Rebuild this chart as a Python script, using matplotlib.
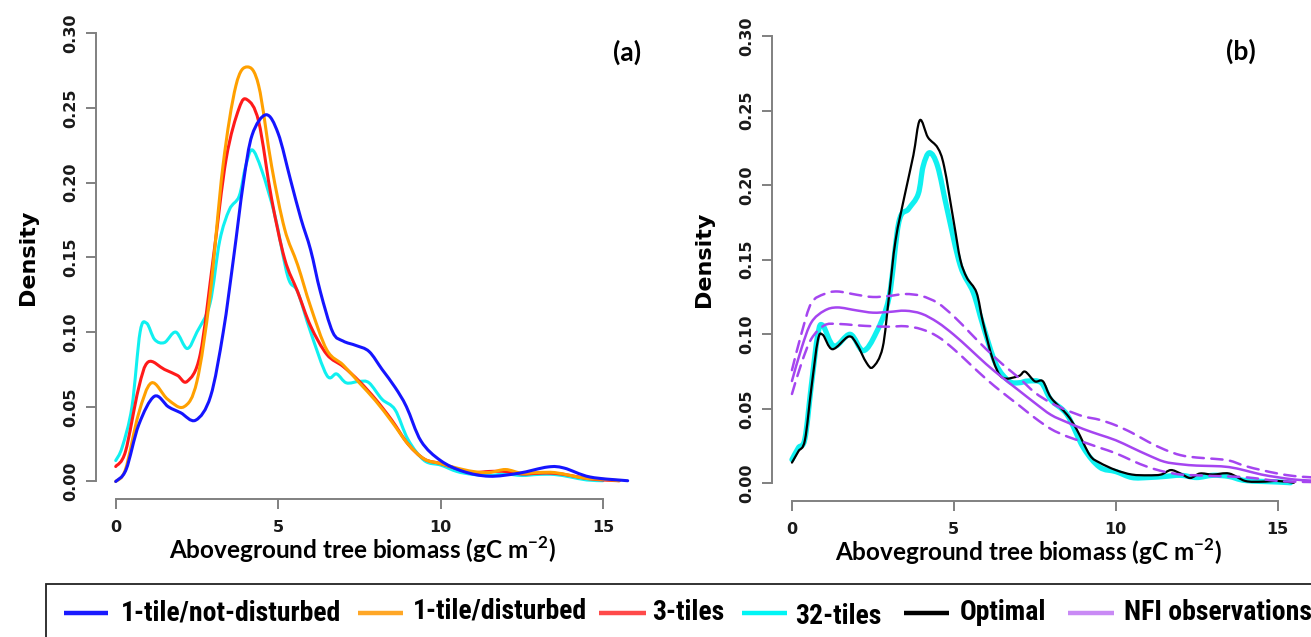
import numpy as np
import matplotlib
matplotlib.use("Agg")
import matplotlib.pyplot as plt
from matplotlib.path import Path
from matplotlib.patches import PathPatch
from matplotlib.lines import Line2D
from matplotlib import font_manager

# ---------------- data ----------------
# Panel (a)
xa_blue = [0, 0.32, 0.71, 1.19, 1.62, 2.0, 2.46, 2.92, 3.31, 3.63, 3.93, 4.2, 4.63, 5.0, 5.38, 5.7, 6.0, 6.3, 6.68, 7.0, 7.4, 7.8, 8.2, 8.6, 8.95, 9.4, 10.0, 10.7, 11.5, 12.4, 13.3, 13.8, 14.6, 15.76]
ya_blue = [0.000, 0.008, 0.038, 0.057, 0.050, 0.046, 0.041, 0.057, 0.100, 0.150, 0.200, 0.232, 0.2455, 0.233, 0.202, 0.176, 0.155, 0.127, 0.100, 0.094, 0.091, 0.087, 0.075, 0.063, 0.050, 0.027, 0.014, 0.0067, 0.0035, 0.0055, 0.0097, 0.009, 0.003, 0.0005]

xa_orange = [0, 0.3, 0.7, 1.1, 1.6, 2.1, 2.5, 2.9, 3.3, 3.7, 4.05, 4.4, 4.8, 5.2, 5.6, 6.0, 6.5, 7.0, 7.5, 8.0, 8.5, 9.0, 9.5, 10.0, 10.5, 11.0, 11.5, 12.0, 12.5, 13.0, 13.5, 14.0, 14.5, 15.0, 15.5]
ya_orange = [0.000, 0.008, 0.045, 0.066, 0.055, 0.050, 0.067, 0.124, 0.211, 0.265, 0.2775, 0.265, 0.211, 0.169, 0.145, 0.117, 0.088, 0.078, 0.066, 0.054, 0.040, 0.025, 0.015, 0.012, 0.009, 0.0067, 0.006, 0.008, 0.0055, 0.006, 0.006, 0.004, 0.002, 0.0015, 0.0005]

xa_red = [0, 0.3, 0.7, 1.0, 1.5, 1.9, 2.2, 2.6, 3.0, 3.4, 3.8, 4.05, 4.4, 4.8, 5.2, 5.6, 6.0, 6.5, 7.0, 7.5, 8.0, 8.5, 9.0, 9.5, 10.0, 10.5, 11.0, 11.5, 12.0, 12.5, 13.0, 13.5, 14.0, 14.5, 15.0, 15.5]
ya_red = [0.010, 0.020, 0.062, 0.080, 0.075, 0.071, 0.067, 0.085, 0.149, 0.216, 0.250, 0.2555, 0.241, 0.189, 0.149, 0.127, 0.104, 0.085, 0.077, 0.067, 0.055, 0.041, 0.025, 0.015, 0.012, 0.0085, 0.006, 0.0067, 0.0067, 0.005, 0.0055, 0.0055, 0.004, 0.002, 0.001, 0.0005]

xa_cyan = [0, 0.2, 0.5, 0.75, 0.95, 1.2, 1.5, 1.85, 2.2, 2.5, 2.9, 3.2, 3.5, 3.8, 4.0, 4.2, 4.5, 4.9, 5.3, 5.6, 6.0, 6.5, 6.8, 7.1, 7.5, 7.8, 8.2, 8.6, 9.0, 9.5, 10.0, 10.5, 11.0, 11.5, 12.0, 12.5, 13.0, 13.5, 14.0, 14.5, 15.0]
ya_cyan = [0.014, 0.023, 0.050, 0.100, 0.106, 0.095, 0.093, 0.100, 0.089, 0.100, 0.119, 0.161, 0.182, 0.191, 0.211, 0.222, 0.208, 0.178, 0.137, 0.127, 0.100, 0.071, 0.072, 0.066, 0.067, 0.066, 0.055, 0.048, 0.028, 0.014, 0.011, 0.0067, 0.0047, 0.004, 0.005, 0.004, 0.0047, 0.0047, 0.003, 0.001, 0.0005]

# Panel (b)
xb_opt = [0, 0.2, 0.4, 0.6, 0.8, 0.95, 1.25, 1.75, 2.0, 2.3, 2.5, 2.8, 3.0, 3.2, 3.5, 3.75, 3.95, 4.2, 4.5, 4.7, 5.0, 5.2, 5.4, 5.7, 5.9, 6.2, 6.5, 7.0, 7.2, 7.5, 7.75, 8.0, 8.5, 8.8, 9.2, 9.5, 10.0, 10.5, 11.0, 11.4, 11.7, 12.0, 12.3, 12.6, 13.0, 13.5, 14.0, 14.5, 15.0, 15.5]
yb_opt = [0.014, 0.0216, 0.029, 0.064, 0.096, 0.0997, 0.090, 0.0985, 0.0935, 0.081, 0.078, 0.091, 0.126, 0.163, 0.195, 0.220, 0.2435, 0.232, 0.225, 0.2125, 0.175, 0.150, 0.138, 0.128, 0.108, 0.0835, 0.071, 0.072, 0.075, 0.0685, 0.0685, 0.0575, 0.046, 0.036, 0.019, 0.014, 0.009, 0.006, 0.0055, 0.006, 0.009, 0.0067, 0.0037, 0.0067, 0.006, 0.0067, 0.0017, 0.0012, 0.0017, 0.0005]

xb_cyan = [0, 0.2, 0.4, 0.6, 0.8, 0.95, 1.3, 1.8, 2.2, 2.6, 3.0, 3.3, 3.6, 3.9, 4.05, 4.25, 4.5, 4.8, 5.2, 5.6, 5.9, 6.3, 6.7, 7.0, 7.3, 7.7, 8.0, 8.5, 9.0, 9.5, 10.0, 10.5, 11.0, 11.5, 12.0, 12.5, 13.0, 13.5, 14.0, 15.0, 15.4]
yb_cyan = [0.016, 0.024, 0.030, 0.066, 0.100, 0.106, 0.092, 0.100, 0.089, 0.101, 0.125, 0.175, 0.184, 0.194, 0.2125, 0.2217, 0.2125, 0.183, 0.146, 0.128, 0.106, 0.080, 0.0687, 0.0675, 0.0687, 0.0675, 0.056, 0.046, 0.024, 0.011, 0.008, 0.004, 0.004, 0.0047, 0.0055, 0.004, 0.0055, 0.0047, 0.002, 0.001, 0.0005]

xb_nfi = [0, 0.3, 0.6, 1.0, 1.4, 2.0, 2.5, 3.0, 3.5, 4.0, 4.5, 5.0, 5.5, 6.0, 6.5, 7.0, 7.5, 8.0, 8.5, 9.0, 9.5, 10.0, 10.5, 11.0, 11.5, 12.0, 12.5, 13.0, 13.5, 14.0, 14.5, 15.0, 15.5, 16.0, 16.5]
yb_nfi = [0.0687, 0.091, 0.108, 0.1158, 0.118, 0.116, 0.1145, 0.115, 0.1158, 0.1138, 0.108, 0.0997, 0.090, 0.080, 0.071, 0.0625, 0.054, 0.046, 0.041, 0.0365, 0.0327, 0.029, 0.024, 0.019, 0.0146, 0.0129, 0.012, 0.0117, 0.011, 0.0087, 0.006, 0.0042, 0.0027, 0.002, 0.0015]
yb_nfi_hi = [0.076, 0.101, 0.121, 0.127, 0.1287, 0.1265, 0.125, 0.1257, 0.127, 0.1257, 0.121, 0.112, 0.101, 0.090, 0.080, 0.071, 0.061, 0.054, 0.049, 0.045, 0.0427, 0.039, 0.034, 0.028, 0.0228, 0.019, 0.0174, 0.0166, 0.0154, 0.0117, 0.009, 0.0067, 0.005, 0.0042, 0.0035]
yb_nfi_lo = [0.060, 0.081, 0.097, 0.106, 0.107, 0.106, 0.1054, 0.1051, 0.1054, 0.1034, 0.0985, 0.090, 0.080, 0.070, 0.061, 0.0526, 0.044, 0.0365, 0.0315, 0.0278, 0.024, 0.0203, 0.0154, 0.011, 0.0079, 0.006, 0.0055, 0.005, 0.0047, 0.0042, 0.003, 0.0017, 0.0012, 0.001, 0.0008]

x_ticks = [0, 5, 10, 15]
y_ticks = [0.00, 0.05, 0.10, 0.15, 0.20, 0.25, 0.30]
y_tick_labels = ["0.00", "0.05", "0.10", "0.15", "0.20", "0.25", "0.30"]
legend_labels = ["1-tile/not-disturbed", "1-tile/disturbed", "3-tiles", "32-tiles", "Optimal", "NFI observations"]
legend_colors = ["#1a1aff", "#ffa726", "#ff4a4a", "#00f5f5", "#000000", "#c98af5"]

C_BLUE = "#1515ff"
C_ORANGE = "#ffa000"
C_RED = "#ff1a1a"
C_CYAN = "#10f0f0"
C_PURPLE = "#a545f0"

# ---------------- fonts ----------------
available = {f.name for f in font_manager.fontManager.ttflist}
def first_available(cands):
    for c in cands:
        if c in available:
            return c
    return "DejaVu Sans"

NARROW = first_available(["Liberation Sans Narrow", "DejaVu Sans Condensed", "Roboto Condensed",
                          "Open Sans Condensed", "Roboto", "Liberation Sans"])
LABEL_FONT = first_available(["Lato", "Open Sans", "DejaVu Sans"])

plt.rcParams["mathtext.fontset"] = "custom"
plt.rcParams["mathtext.rm"] = LABEL_FONT
plt.rcParams["mathtext.bf"] = LABEL_FONT + ":bold"

# ---------------- helpers ----------------
def smooth_curve(ax, x, y, **kw):
    """Draw a smooth Catmull-Rom curve (as cubic Bezier path) through the points."""
    P = np.column_stack([x, y]).astype(float)
    n = len(P)
    verts = [P[0]]
    codes = [Path.MOVETO]
    for i in range(n - 1):
        p0 = P[i - 1] if i > 0 else P[i]
        p1 = P[i]
        p2 = P[i + 1]
        p3 = P[i + 2] if i + 2 < n else P[i + 1]
        c1 = p1 + (p2 - p0) / 6.0
        c2 = p2 - (p3 - p1) / 6.0
        verts += [c1, c2, p2]
        codes += [Path.CURVE4] * 3
    patch = PathPatch(Path(verts, codes), fill=False, transform=ax.transData,
                      capstyle="round", joinstyle="round", **kw)
    ax.add_patch(patch)
    return patch

AXIS_GRAY = "#808080"
TICK_FONT = dict(family="DejaVu Sans", weight="bold", size=11.5)

def style_axes(ax, xlabel_x):
    ax.set_xlim(-0.61, 16.37)
    ax.set_ylim(-0.012, 0.312)
    for s in ("top", "right"):
        ax.spines[s].set_visible(False)
    for s in ("left", "bottom"):
        ax.spines[s].set_color(AXIS_GRAY)
        ax.spines[s].set_linewidth(1.4)
    ax.spines["left"].set_bounds(0, 0.30)
    ax.spines["bottom"].set_bounds(0, 15)
    ax.set_xticks(x_ticks)
    ax.set_xticklabels([str(t) for t in x_ticks], fontdict=TICK_FONT)
    ax.set_yticks(y_ticks)
    ax.set_yticklabels(y_tick_labels, fontdict=TICK_FONT, rotation=90, va="center")
    ax.tick_params(axis="both", direction="out", length=7, width=1.4,
                   color=AXIS_GRAY, labelcolor="#1a1a1a")
    ax.tick_params(axis="x", pad=8)
    ax.tick_params(axis="y", pad=6)
    ax.set_facecolor("white")
    ax.set_ylabel("Density", family="DejaVu Sans", weight="bold", size=16, labelpad=18)
    ax.set_xlabel("Aboveground tree biomass (gC m$^{\\mathbf{-2}}$)", family=LABEL_FONT,
                  weight="bold", size=17.5, labelpad=1)
    ax.xaxis.set_label_coords(xlabel_x, -0.072)

# ---------------- figure ----------------
W, H = 1311, 637
fig = plt.figure(figsize=(W / 100, H / 100), dpi=100)
fig.patch.set_facecolor("white")

ax1 = fig.add_axes([95.9 / W, 1 - 499.4 / H, (647.5 - 95.9) / W, (499.4 - 15.4) / H])
ax2 = fig.add_axes([772.2 / W, 1 - 501.4 / H, (1322 - 772.2) / W, (501.4 - 18) / H])

style_axes(ax1, (362 - 95.9) / (647.5 - 95.9))
style_axes(ax2, (1028 - 772.2) / (1322 - 772.2))

# Panel (a)
lw_a = 2.2
smooth_curve(ax1, xa_cyan, ya_cyan, color=C_CYAN, lw=lw_a, zorder=3)
smooth_curve(ax1, xa_red, ya_red, color=C_RED, lw=lw_a, zorder=4)
smooth_curve(ax1, xa_orange, ya_orange, color=C_ORANGE, lw=lw_a, zorder=5)
smooth_curve(ax1, xa_blue, ya_blue, color=C_BLUE, lw=lw_a, zorder=6)
fig.text(627 / W, 1 - 52 / H, "(a)", ha="center", va="center",
         family=LABEL_FONT, weight="bold", size=19)

# Panel (b)
smooth_curve(ax2, xb_cyan, yb_cyan, color=C_CYAN, lw=3.8, zorder=3)
smooth_curve(ax2, xb_opt, yb_opt, color="black", lw=1.6, zorder=4)
smooth_curve(ax2, xb_nfi, yb_nfi, color=C_PURPLE, lw=1.8, zorder=5)
smooth_curve(ax2, xb_nfi, yb_nfi_hi, color=C_PURPLE, lw=1.8, zorder=5, linestyle=(0, (4.5, 3)))
smooth_curve(ax2, xb_nfi, yb_nfi_lo, color=C_PURPLE, lw=1.8, zorder=5, linestyle=(0, (4.5, 3)))
fig.text(1241 / W, 1 - 51 / H, "(b)", ha="center", va="center",
         family=LABEL_FONT, weight="bold", size=19)

# ---------------- legend box ----------------
box = plt.Rectangle((46.5 / W, -0.05), 1.1, (637 - 584) / H + 0.05, transform=fig.transFigure,
                    fill=False, edgecolor="#222222", lw=1.3)
fig.add_artist(box)
swatch_x = [(64, 108), (358, 403), (599, 646), (742, 787), (904, 949), (1068, 1114)]
text_x = [121, 413, 652, 795, 960, 1124]
text_dy = [0, -2, 0, 3, 0, 0]
y_leg = 1 - 613 / H

# choose legend font size so that the first label is ~222 px wide
renderer = fig.canvas.get_renderer()
probe = fig.text(0, 0, legend_labels[0], family=NARROW, weight="bold", size=16)
wpx = probe.get_window_extent(renderer).width
probe.remove()
leg_size = min(20.0, 16 * 222.0 / wpx)

for (sx0, sx1), tx, dy, lab, col in zip(swatch_x, text_x, text_dy, legend_labels, legend_colors):
    fig.add_artist(Line2D([sx0 / W, sx1 / W], [y_leg, y_leg], transform=fig.transFigure,
                          color=col, lw=3.2, solid_capstyle="butt"))
    fig.text(tx / W, y_leg - dy / H, lab, ha="left", va="center",
             family=NARROW, weight="bold", size=leg_size)

fig.savefig("out.png", dpi=100, facecolor="white")
